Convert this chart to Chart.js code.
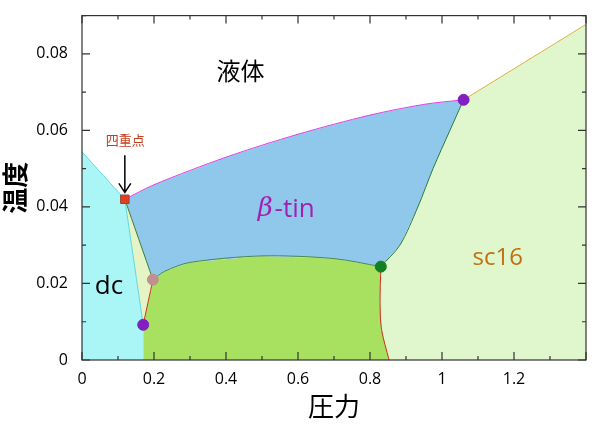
<!DOCTYPE html>
<html>
<head>
<meta charset="utf-8">
<script src="https://cdn.jsdelivr.net/npm/chart.js@4"></script>
<style>
  html, body { margin: 0; padding: 0; background: #fff; }
  #wrap { width: 600px; height: 426px; }
</style>
</head>
<body>
<div id="wrap"><canvas id="c"></canvas></div>
<script>
// phase regions (pressure, temperature)
const dcRegion = [[0, 0], [0, 0.0544], [0.119, 0.042], [0.17, 0.0092], [0.17, 0]];
const triRegion = [[0.119, 0.042], [0.197, 0.021], [0.17, 0.0092]];
const tinRegion = [[0.119, 0.042], [0.2, 0.0458], [0.4, 0.053], [0.6, 0.059], [0.8, 0.064], [0.95, 0.0668], [1.06, 0.068],
  [1.022, 0.06], [0.975, 0.05], [0.933, 0.04], [0.883, 0.03], [0.83, 0.0244],
  [0.7, 0.0265], [0.5, 0.0272], [0.3, 0.0255], [0.23, 0.0232], [0.197, 0.021]];
const greenRegion = [[0.17, 0], [0.17, 0.0092], [0.197, 0.021], [0.23, 0.0232], [0.3, 0.0255], [0.5, 0.0272], [0.7, 0.0265], [0.83, 0.0244],
  [0.828, 0.015], [0.832, 0.008], [0.853, 0]];
const sc16Region = [[0.853, 0], [0.832, 0.008], [0.828, 0.015], [0.83, 0.0244], [0.883, 0.03], [0.933, 0.04], [0.975, 0.05], [1.022, 0.06], [1.06, 0.068],
  [1.4, 0.0877], [1.4, 0]];

// boundary lines
const liquidDcLine = [[0, 0.0544], [0.119, 0.042]];
const liquidTinLine = tinRegion.slice(0, 7);
const liquidScLine = [[1.06, 0.068], [1.4, 0.0877]];
const dcTriLine = [[0.119, 0.042], [0.17, 0.0092]];
const tinTriLine = [[0.119, 0.042], [0.197, 0.021]];
const triGreenLine = [[0.17, 0.0092], [0.197, 0.021]];
const tinGreenLine = greenRegion.slice(2, 8);
const tinScLine = sc16Region.slice(3, 9);
const greenScLine = [[0.83, 0.0244], [0.828, 0.015], [0.832, 0.008], [0.853, 0]];

// special points
const quadPoint = [[0.119, 0.042]];
const triplePurple = [[1.06, 0.068], [0.17, 0.0092]];
const triplePink = [[0.197, 0.021]];
const tripleGreen = [[0.83, 0.0244]];

const xTicks = [0, 0.2, 0.4, 0.6, 0.8, 1, 1.2];
const yTicks = [0, 0.02, 0.04, 0.06, 0.08];

const pts = a => a.map(p => ({ x: p[0], y: p[1] }));

function region(data, color) {
  return { data: pts(data), showLine: true, fill: 'shape', backgroundColor: color,
    borderWidth: 0, borderColor: color, pointRadius: 0, tension: 0, order: 10 };
}
function line(data, color) {
  return { data: pts(data), showLine: true, fill: false, borderColor: color,
    borderWidth: 1, pointRadius: 0, tension: 0.3, order: 5 };
}
function marker(data, color, style) {
  return { data: pts(data), showLine: false, pointStyle: style || 'circle',
    pointRadius: style === 'rect' ? 6 : 5.5, pointBackgroundColor: color,
    pointBorderColor: style === 'rect' ? '#a04040' : color, pointBorderWidth: 1,
    order: 0, clip: false };
}

const CJK = '"Noto Sans CJK JP", "Noto Sans", sans-serif';

const decor = {
  id: 'decor',
  afterDraw(chart) {
    const { ctx, chartArea: a, scales: { x, y } } = chart;
    ctx.save();
    ctx.strokeStyle = '#333';
    ctx.lineWidth = 1.2;
    ctx.strokeRect(a.left, a.top, a.right - a.left, a.bottom - a.top);
    ctx.beginPath();
    for (let v = 0; v <= 1.4001; v += 0.1) {
      const px = x.getPixelForValue(v);
      const len = Math.round(v * 10) % 2 === 0 ? 8 : 4;
      ctx.moveTo(px, a.bottom); ctx.lineTo(px, a.bottom - len);
      ctx.moveTo(px, a.top); ctx.lineTo(px, a.top + len);
    }
    for (let v = 0; v <= 0.0901; v += 0.01) {
      const py = y.getPixelForValue(v);
      const len = Math.round(v * 100) % 2 === 0 ? 8 : 4;
      ctx.moveTo(a.left, py); ctx.lineTo(a.left + len, py);
      ctx.moveTo(a.right, py); ctx.lineTo(a.right - len, py);
    }
    ctx.stroke();

    const txt = (s, vx, vy, font, color, align) => {
      ctx.font = font; ctx.fillStyle = color;
      ctx.textAlign = align || 'center'; ctx.textBaseline = 'middle';
      ctx.fillText(s, x.getPixelForValue(vx), y.getPixelForValue(vy));
    };
    txt('液体', 0.44, 0.0755, '24px ' + CJK, '#000');
    txt('β', 0.53, 0.0393, 'italic 26px "DejaVu Serif", serif', '#a020b0', 'right');
    txt('-tin', 0.535, 0.0393, '26px "Open Sans", sans-serif', '#a020b0', 'left');
    txt('sc16', 1.155, 0.0265, '24px "Open Sans", sans-serif', '#c07010');
    txt('dc', 0.075, 0.0193, '26px "Open Sans", sans-serif', '#000');
    txt('四重点', 0.12, 0.0575, '13px ' + CJK, '#c04020');

    // arrow to quadruple point
    const ax = x.getPixelForValue(0.119);
    const y1 = y.getPixelForValue(0.0535), y2 = y.getPixelForValue(0.0438);
    ctx.strokeStyle = '#000'; ctx.lineWidth = 1.5;
    ctx.beginPath();
    ctx.moveTo(ax, y1); ctx.lineTo(ax, y2);
    ctx.moveTo(ax - 6, y2 - 9); ctx.lineTo(ax, y2); ctx.lineTo(ax + 6, y2 - 9);
    ctx.stroke();
    ctx.restore();
  }
};

new Chart(document.getElementById('c'), {
  type: 'scatter',
  data: {
    datasets: [
      region(dcRegion, '#aaf6f6'),
      region(triRegion, '#e4f4c4'),
      region(tinRegion, '#90c8ec'),
      region(greenRegion, '#a8e060'),
      region(sc16Region, '#e0f6cc'),
      line(liquidDcLine, '#60d8e0'),
      line(liquidTinLine, '#e040e0'),
      line(liquidScLine, '#e0b040'),
      line(dcTriLine, '#60d8e0'),
      line(tinTriLine, '#3a7a3a'),
      line(triGreenLine, '#d03020'),
      line(tinGreenLine, '#4a8a4a'),
      line(tinScLine, '#2a7a3a'),
      line(greenScLine, '#d03020'),
      marker(quadPoint, '#e04020', 'rect'),
      marker(triplePurple, '#8020c0'),
      marker(triplePink, '#c09090'),
      marker(tripleGreen, '#108020')
    ]
  },
  options: {
    responsive: true,
    maintainAspectRatio: false,
    animation: false,
    layout: { padding: { top: 8, right: 14, left: 0, bottom: 0 } },
    plugins: { legend: { display: false }, tooltip: { enabled: false } },
    scales: {
      x: {
        type: 'linear', min: 0, max: 1.4,
        afterBuildTicks: s => { s.ticks = xTicks.map(v => ({ value: v })); },
        afterFit: s => { s.height = 66; },
        grid: { display: false }, border: { display: false },
        ticks: { font: { size: 16, family: '"Open Sans", sans-serif' }, color: '#000', padding: 2,
          callback: v => String(v) },
        title: { display: true, text: '圧力', font: { size: 26, family: CJK }, color: '#000', padding: { top: 0 } }
      },
      y: {
        type: 'linear', min: 0, max: 0.09,
        afterBuildTicks: s => { s.ticks = yTicks.map(v => ({ value: v })); },
        afterFit: s => { s.width = 82; },
        grid: { display: false }, border: { display: false },
        ticks: { font: { size: 16, family: '"Open Sans", sans-serif' }, color: '#000', padding: 6,
          callback: v => String(v) },
        title: { display: true, text: '温度', font: { size: 26, weight: 'bold', family: CJK }, color: '#000', padding: 0 }
      }
    }
  },
  plugins: [decor]
});
</script>
</body>
</html>
